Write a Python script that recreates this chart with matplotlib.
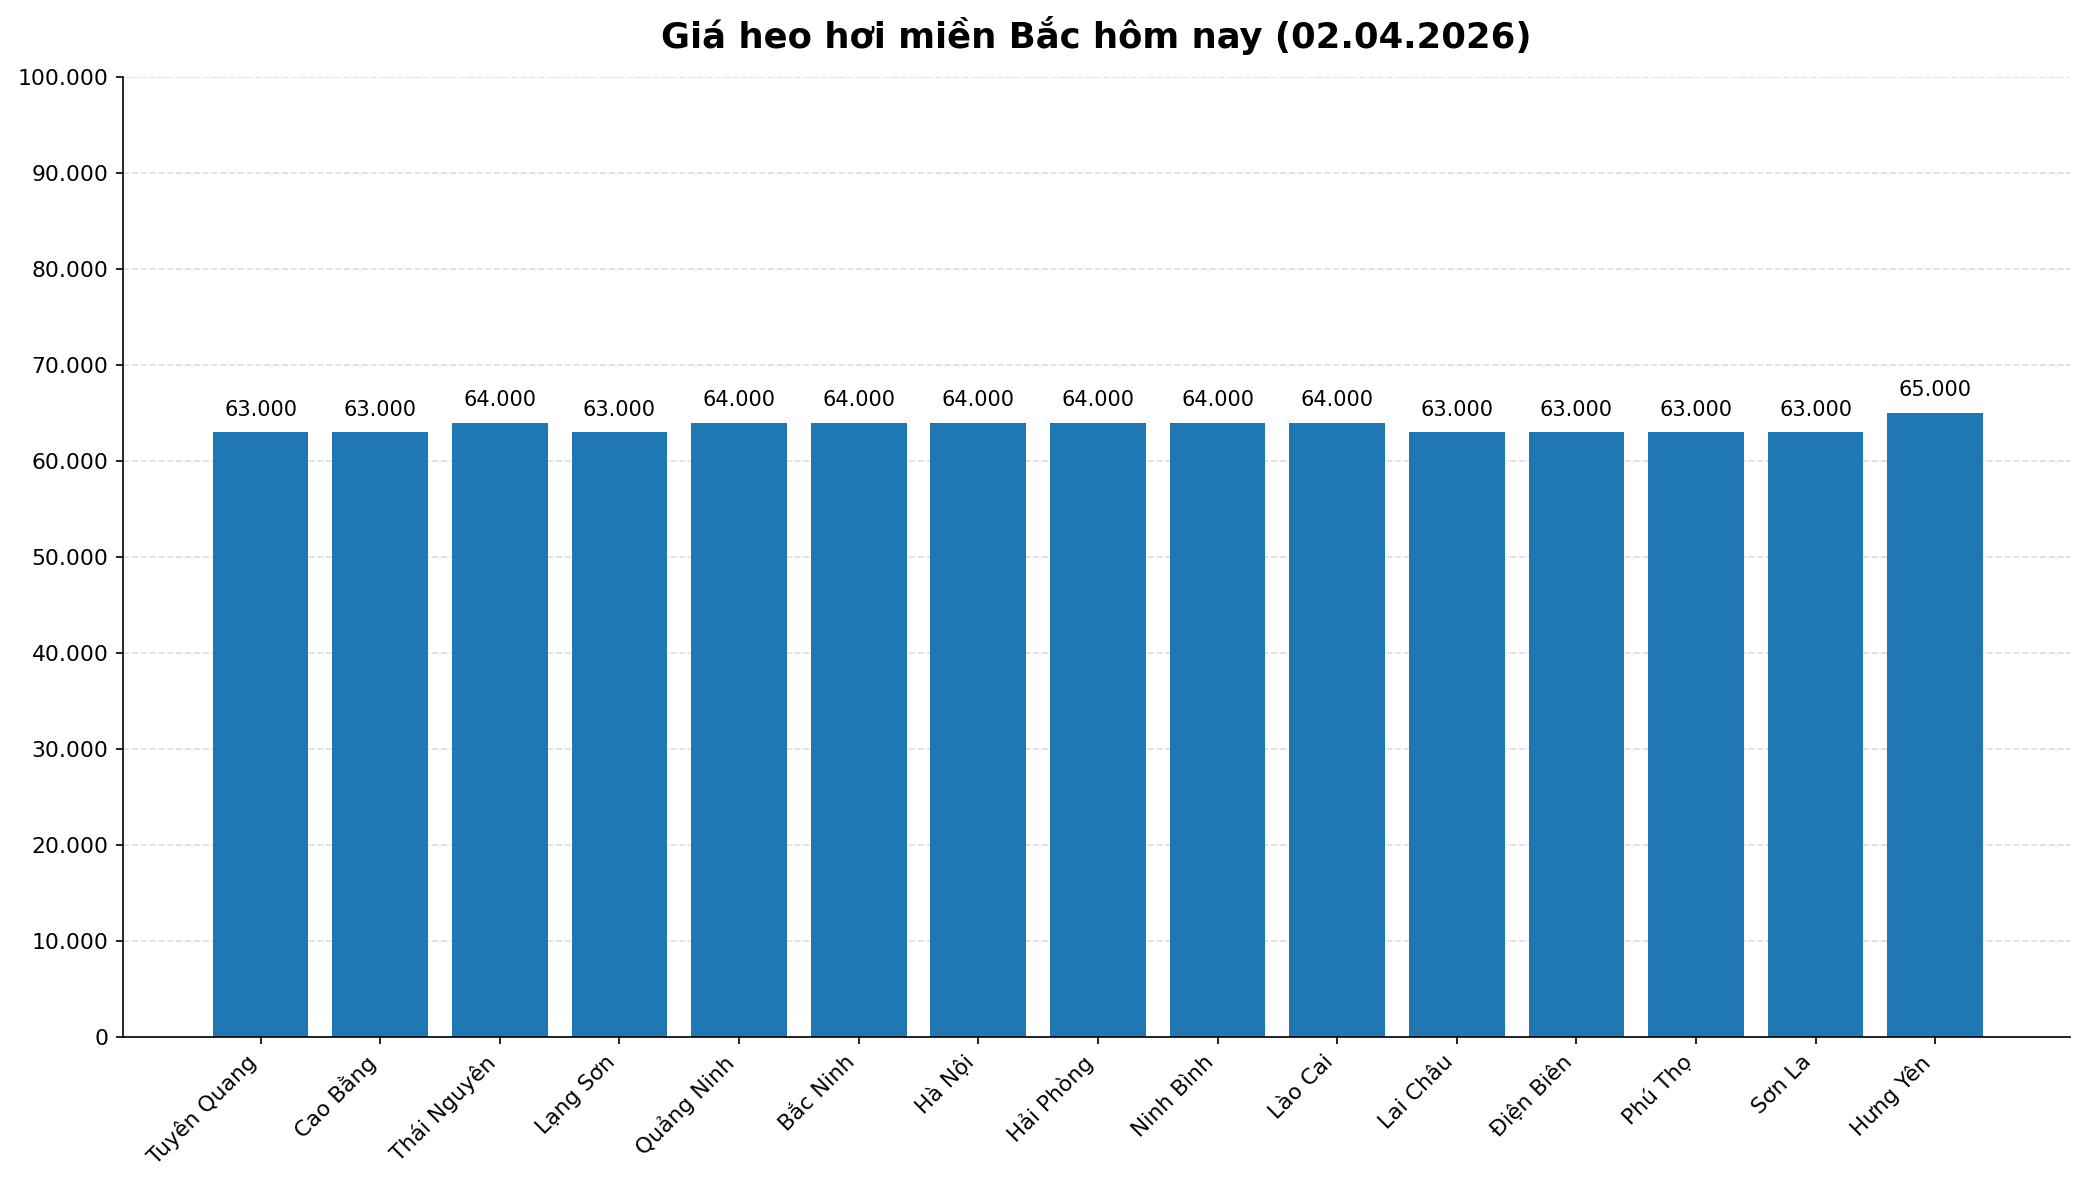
import matplotlib
matplotlib.use("Agg")
import matplotlib.pyplot as plt
from matplotlib.ticker import FuncFormatter

provinces = ["Tuyên Quang", "Cao Bằng", "Thái Nguyên", "Lạng Sơn", "Quảng Ninh",
             "Bắc Ninh", "Hà Nội", "Hải Phòng", "Ninh Bình", "Lào Cai",
             "Lai Châu", "Điện Biên", "Phú Thọ", "Sơn La", "Hưng Yên"]
prices = [63000, 63000, 64000, 63000, 64000, 64000, 64000, 64000, 64000, 64000,
          63000, 63000, 63000, 63000, 65000]


def fmt(v, _=None):
    return f"{int(v):,}".replace(",", ".")


fig, ax = plt.subplots(figsize=(13.9, 7.9), dpi=150)
x = list(range(len(provinces)))
bars = ax.bar(x, prices, width=0.8, color="#1f77b4", zorder=2)
for b, v in zip(bars, prices):
    ax.annotate(fmt(v), (b.get_x() + b.get_width() / 2, v), xytext=(0, 6),
                textcoords="offset points", ha="center", va="bottom", fontsize=10)

ax.set_ylim(0, 100000)
ax.set_xlim(-1.15, 15.13)
ax.set_yticks(range(0, 100001, 10000))
ax.yaxis.set_major_formatter(FuncFormatter(fmt))
ax.set_xticks(x)
ax.set_xticklabels(provinces, rotation=45, ha="right", fontsize=10.5)
ax.tick_params(axis="y", labelsize=10.5)
ax.grid(axis="y", linestyle="--", color="#dddddd", linewidth=0.8, zorder=0)
ax.spines["top"].set_visible(False)
ax.spines["right"].set_visible(False)
ax.set_title("Giá heo hơi miền Bắc hôm nay (02.04.2026)", fontsize=17, fontweight="bold", pad=14)

fig.subplots_adjust(left=0.059, right=0.993, top=0.935, bottom=0.125)
fig.savefig("out.png", dpi=150)
